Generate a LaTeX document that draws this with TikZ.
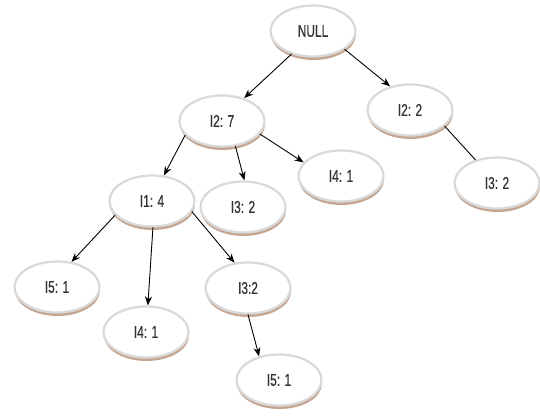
\documentclass[tikz,border=0pt]{standalone}
\usepackage{fontspec}
\newfontfamily\narrowsans[FakeStretch=0.7,FakeBold=0.6]{Liberation Sans}
\usetikzlibrary{shapes.geometric,shadows,arrows.meta}
\definecolor{shadowtan}{RGB}{196,166,146}
\begin{document}
\begin{tikzpicture}[x=1pt,y=-1pt,>={Stealth[length=9pt,width=7pt]}, line join=round, line cap=round,
  setnode/.style={ellipse,draw=gray!30,line width=2.2pt,fill=white,minimum width=85pt,minimum height=51pt,inner sep=0pt,
    text=black!80,font=\narrowsans\fontsize{17}{19}\selectfont,
    drop shadow={shadow xshift=0.5pt,shadow yshift=-3.5pt,fill=shadowtan,opacity=1}},
  link/.style={line width=0.9pt}]
\useasboundingbox (0,0) rectangle (540,417);
\node[setnode] (null) at (313,31) {NULL};
\node[setnode] (i27) at (222,121) {I2: 7};
\node[setnode] (i22) at (410,110) {I2: 2};
\node[setnode] (i32r) at (497,183) {I3: 2};
\node[setnode] (i14) at (152,201) {I1: 4};
\node[setnode] (i32m) at (243,207) {I3: 2};
\node[setnode] (i41u) at (341,176) {I4: 1};
\node[setnode] (i51l) at (57,287) {I5: 1};
\node[setnode] (i32l) at (248,288) {I3:2};
\node[setnode] (i41l) at (146,332) {I4: 1};
\node[setnode] (i51b) at (279,380) {I5: 1};
% links of the tree
\draw[link,->] (null.227) -- (i27.46);
\draw[link,->] (null.-30) -- (i22.130);
\draw[link,->] (i27.201) -- (i14.65);
\draw[link,->] (i27.-62) -- (i32m.87);
\draw[link,->] (i27.-19) -- (i41u.160);
\draw[link] (i22.-25) -- (i32r.133);
\draw[link,->] (i14.201) -- (i51l.60);
\draw[link,->] (i14.-88) -- (i41l.86);
\draw[link,->] (i14.-15) -- (i32l.118);
\draw[link,->] (i32l.-90) -- (i51b.130);
\end{tikzpicture}
\end{document}
